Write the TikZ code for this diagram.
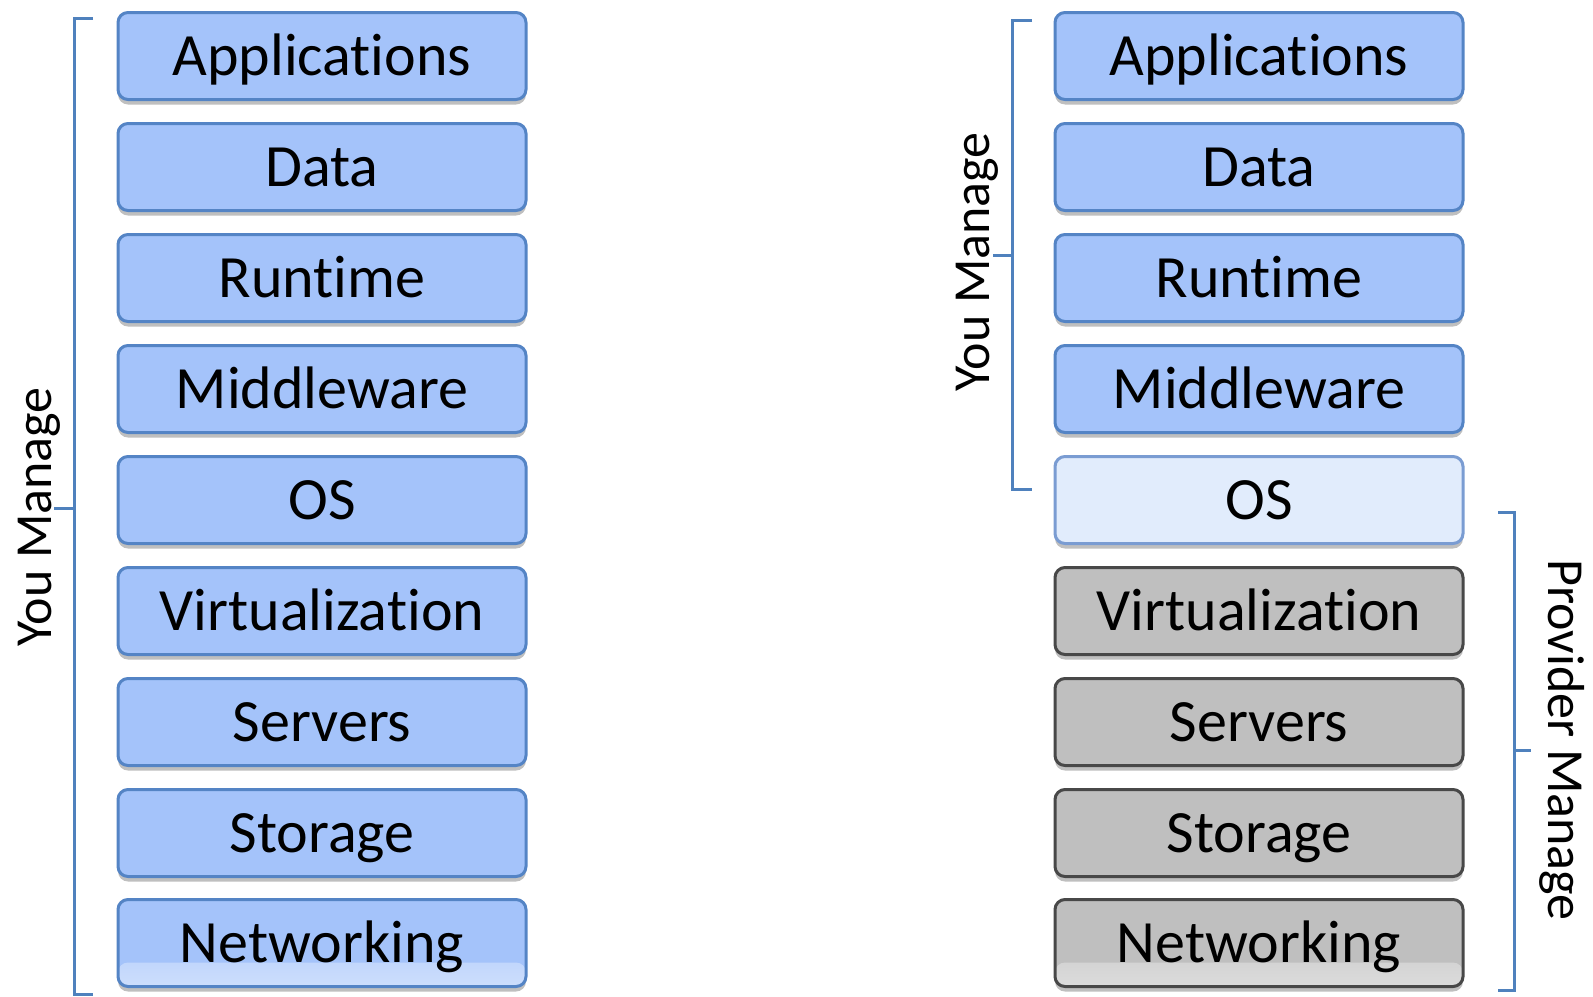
\documentclass[tikz,border=0pt]{standalone}
\usepackage{fontspec}
\setmainfont{Carlito}[Ligatures=NoCommon]
\usetikzlibrary{shadows}

\definecolor{boxblue}{RGB}{164,195,250}
\definecolor{boxblueline}{RGB}{84,132,197}
\definecolor{oslight}{RGB}{225,236,252}
\definecolor{oslightline}{RGB}{122,156,210}
\definecolor{boxgray}{RGB}{191,191,191}
\definecolor{boxgrayline}{RGB}{72,72,72}
\definecolor{bracecol}{RGB}{79,129,189}

\begin{document}
\begin{tikzpicture}[x=0.5pt,y=-0.5pt, line width=1.5pt]
    \tikzstyle{layer} = [draw=boxblueline, fill=boxblue, rectangle, rounded corners=5pt,
        minimum width=204pt, minimum height=43.5pt, inner sep=0pt,
        text height=19.3pt, text depth=0pt, font=\fontsize{30}{35}\selectfont,
        drop shadow={shadow xshift=0pt, shadow yshift=-2.5pt, opacity=0.25, fill=black}]
    \tikzstyle{oslayer} = [layer, draw=oslightline, fill=oslight]
    \tikzstyle{provlayer} = [layer, draw=boxgrayline, fill=boxgray]
    \tikzstyle{bottomshade} = [path picture={\shade[top color=#1, bottom color=white!45!#1]
        ([yshift=12pt]path picture bounding box.south west) rectangle (path picture bounding box.south east);}]
    \tikzstyle{sidelabel} = [inner sep=0pt, font=\fontsize{26}{30}\selectfont]
    \tikzstyle{bracket} = [draw=bracecol, line width=1.5pt]

    \useasboundingbox (0,0) rectangle (1593,996);

    % Left stack (all managed by you)
    \node[layer] (lapp) at (322,56) {Applications};
    \node[layer] (ldata) at (322,167) {Data};
    \node[layer] (lrun) at (322,278) {Runtime};
    \node[layer] (lmid) at (322,389) {Middleware};
    \node[layer] (los) at (322,500) {OS};
    \node[layer] (lvirt) at (322,611) {Virtualization};
    \node[layer] (lserv) at (322,722) {Servers};
    \node[layer] (lstor) at (322,833) {Storage};
    \node[layer, bottomshade=boxblue] (lnet) at (322,943) {Networking};

    % Right stack (split between you and the provider)
    \node[layer] (rapp) at (1259,56) {Applications};
    \node[layer] (rdata) at (1259,167) {Data};
    \node[layer] (rrun) at (1259,278) {Runtime};
    \node[layer] (rmid) at (1259,389) {Middleware};
    \node[oslayer] (ros) at (1259,500) {OS};
    \node[provlayer] (rvirt) at (1259,611) {Virtualization};
    \node[provlayer] (rserv) at (1259,722) {Servers};
    \node[provlayer] (rstor) at (1259,833) {Storage};
    \node[provlayer, bottomshade=boxgray] (rnet) at (1259,943) {Networking};

    % Brackets
    \coordinate (lbtop) at (74,18);
    \coordinate (lbbot) at (74,994);
    \coordinate (lbmid) at (74,508);
    \draw[bracket] (93,18) -- (lbtop) -- (lbbot) -- (93,994);
    \draw[bracket] (lbmid) -- (54,508);

    \coordinate (rbtop) at (1012,20);
    \coordinate (rbbot) at (1012,489);
    \coordinate (rbmid) at (1012,255);
    \draw[bracket] (1032,20) -- (rbtop) -- (rbbot) -- (1032,489);
    \draw[bracket] (rbmid) -- (993,255);

    \coordinate (pbtop) at (1514,512);
    \coordinate (pbbot) at (1514,990);
    \coordinate (pbmid) at (1514,750);
    \draw[bracket] (1498,512) -- (pbtop) -- (pbbot) -- (1498,990);
    \draw[bracket] (pbmid) -- (1531,750);

    % Labels
    \node[sidelabel, rotate=90, anchor=south] (lyou) at (62,517) {You Manage};
    \node[sidelabel, rotate=90, anchor=south] (ryou) at (1000,262) {You Manage};
    \node[sidelabel, rotate=-90, anchor=south] (prov) at (1538,740) {Provider Manage};
\end{tikzpicture}
\end{document}
